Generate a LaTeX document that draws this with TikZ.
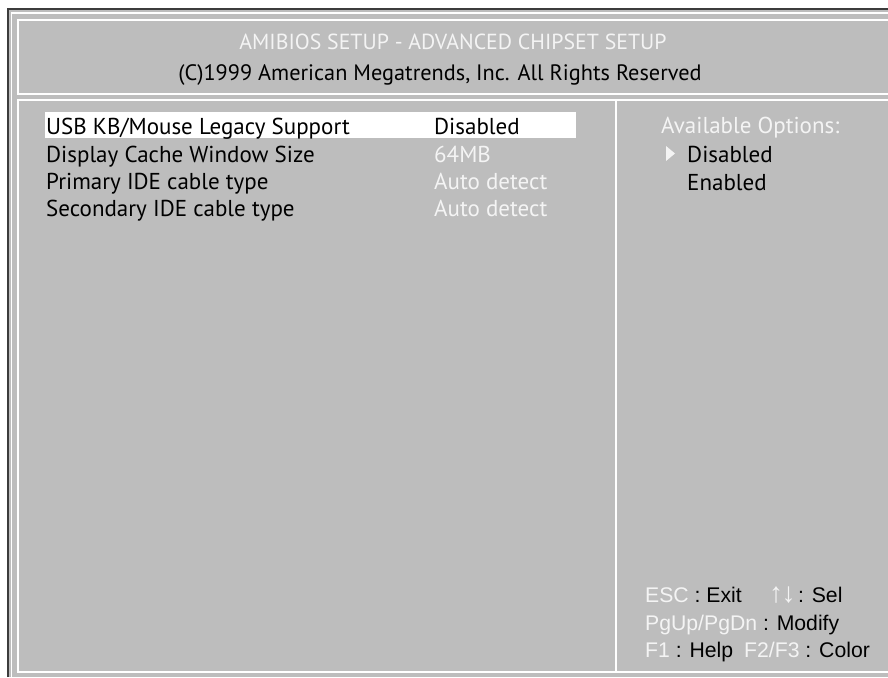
\documentclass[tikz,border=0pt]{standalone}
\usepackage{fontspec}
\setmainfont{PT Sans}
\newfontfamily\footfont{Liberation Sans}
\definecolor{biosbg}{RGB}{189,189,189}
\definecolor{biosfg}{RGB}{244,244,244}
\definecolor{biosedge}{RGB}{60,60,60}
\begin{document}
\begin{tikzpicture}[x=1pt,y=-1pt,
  txt/.style={anchor=base west, inner sep=0pt, font=\fontsize{23}{26}\selectfont},
  title/.style={anchor=base, inner sep=0pt, font=\fontsize{22}{25}\selectfont},
  foot/.style={anchor=base west, inner sep=0pt, font=\footfont\fontsize{21.2}{24}\selectfont},
  dim/.style={text=biosfg},
  frameline/.style={white, line width=2pt}]
\useasboundingbox (0,0) rectangle (888,677);
\fill[white] (0,0) rectangle (888,677);
\fill[biosbg] (8,9) rectangle (888,677);
\draw[biosedge, line width=2pt] (8,677) -- (8,9) -- (888,9);
\draw[white, line width=1.5pt] (11.5,677) -- (11.5,13) -- (888,13);
\draw[frameline] (888,20) -- (18,20) -- (18,94) -- (888,94);
\draw[frameline] (888,100) -- (18,100) -- (18,672) -- (888,672);
\draw[frameline] (616,100) -- (616,672);
% title
\node[title, dim, font=\fontsize{21.8}{25}\selectfont] (t1) at (453,50) {AMIBIOS SETUP - ADVANCED CHIPSET SETUP};
\node[title, font=\fontsize{22.3}{25}\selectfont] (t2) at (440,80) {(C)1999 American Megatrends, Inc. All Rights Reserved};
% highlight
\fill[white] (45,112) rectangle (576,138);
% items
\node[txt] (i1) at (46,134) {USB KB/Mouse Legacy Support};
\node[txt] (i2) at (46,162) {Display Cache Window Size};
\node[txt] (i3) at (46,189) {Primary IDE cable type};
\node[txt] (i4) at (46,216) {Secondary IDE cable type};
\node[txt] (v1) at (434,134) {Disabled};
\node[txt, dim] (v2) at (434,162) {64MB};
\node[txt, dim] (v3) at (434,189) {Auto detect};
\node[txt, dim] (v4) at (434,216) {Auto detect};
% options
\node[txt, dim] (o0) at (661,133) {Available Options:};
\fill[biosfg] (666,146) -- (675,153.5) -- (666,161) -- cycle;
\node[txt] (o1) at (687,162) {Disabled};
\node[txt] (o2) at (687,190) {Enabled};
% footer
\node[foot] (f1) at (645,602) {\textcolor{biosfg}{ESC} : Exit};
\node[foot] (f2) at (769,602) {\makebox[23pt][l]{\textcolor{biosfg}{\fontsize{28}{30}\selectfont↑\kern-1.5pt↓}} : Sel};
\node[foot] (f3) at (645,630) {\textcolor{biosfg}{PgUp/PgDn} : Modify};
\node[foot] (f4) at (645,657) {\textcolor{biosfg}{F1} : Help};
\node[foot] (f5) at (744,657) {\textcolor{biosfg}{F2/F3} : Color};
\end{tikzpicture}
\end{document}
